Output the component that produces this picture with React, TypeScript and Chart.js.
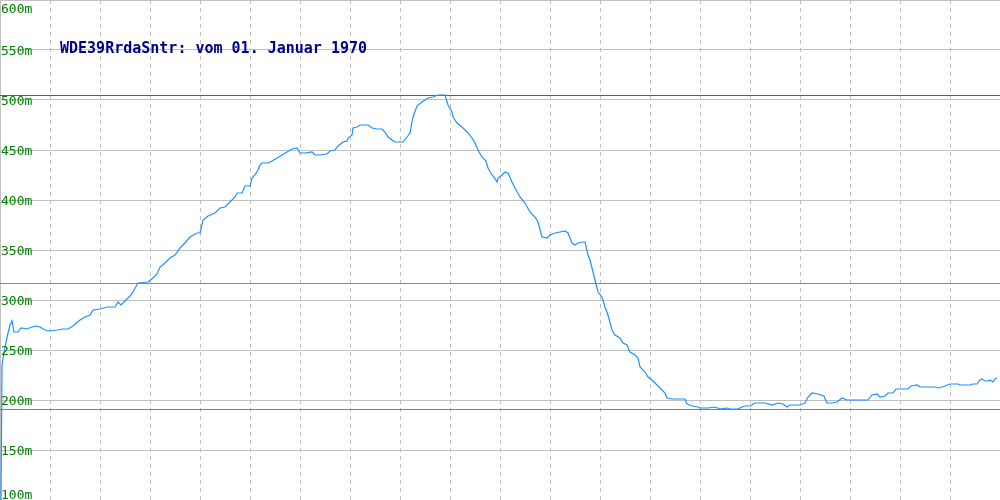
import React, { useEffect, useRef } from "react";
import { Chart, registerables } from "chart.js";

Chart.register(...registerables);

const titleText = "WDE39RrdaSntr: vom 01. Januar 1970";

const distances = [
  1, 2, 5, 8, 10, 12, 14, 18, 21, 27, 32, 36, 40, 45, 50, 57, 63, 68, 73, 80,
  85, 90, 93, 100, 107, 115, 118, 121, 125, 130, 133, 138, 148, 153, 157, 160, 165, 170, 175, 180,
  185, 190, 197, 200, 203, 208, 215, 220, 225, 230, 235, 237, 242, 245, 250, 252, 255, 258, 260, 262,
  268, 272, 277, 282, 287, 292, 297, 300, 305, 312, 315, 320, 327, 330, 335, 338, 343, 347, 348, 352,
  353, 357, 360, 368, 372, 377, 382, 385, 388, 392, 395, 403, 407, 410, 412, 413, 417, 422, 428, 433,
  438, 445, 448, 452, 453, 457, 462, 465, 468, 472, 475, 478, 482, 486, 488, 492, 494, 497, 498, 502,
  505, 508, 512, 515, 520, 525, 530, 535, 538, 542, 547, 550, 555, 560, 565, 568, 572, 575, 578, 582,
  585, 588, 590, 593, 596, 598, 602, 605, 608, 612, 615, 620, 623, 627, 630, 635, 638, 640, 645, 648,
  652, 655, 660, 665, 667, 672, 685, 687, 692, 698, 700, 708, 715, 720, 727, 730, 738, 742, 745, 750,
  755, 765, 772, 778, 783, 787, 790, 800, 805, 808, 812, 818, 824, 827, 832, 837, 842, 847, 868, 872,
  877, 880, 885, 888, 893, 896, 908, 911, 917, 920, 935, 938, 942, 945, 950, 958, 960, 970, 973, 977,
  980, 982, 985, 988, 990, 993, 995, 997,
];

const elevations = [
  100, 235, 253, 267, 275, 279, 268, 268, 272, 271, 273, 274, 273, 270, 269, 270, 271, 271, 274, 280,
  283, 285, 290, 291, 293, 293, 298, 295, 299, 304, 308, 317, 318, 322, 326, 333, 337, 342, 345, 352,
  357, 363, 367, 367, 380, 384, 387, 392, 393, 398, 403, 407, 407, 414, 414, 422, 425, 430, 435, 437,
  437, 439, 442, 445, 448, 451, 452, 447, 447, 448, 445, 445, 446, 449, 450, 454, 458, 459, 462, 465,
  472, 473, 475, 475, 472, 471, 471, 468, 463, 460, 458, 458, 463, 467, 478, 483, 494, 498, 502, 503,
  505, 505, 495, 488, 483, 477, 473, 470, 467, 462, 457, 450, 443, 439, 432, 425, 423, 418, 422, 425,
  428, 427, 418, 412, 403, 397, 388, 383, 378, 363, 362, 365, 367, 368, 369, 367, 357, 355, 357, 358,
  358, 345, 340, 328, 316, 308, 303, 293, 285, 270, 265, 262, 257, 255, 248, 245, 242, 233, 228, 223,
  220, 217, 212, 207, 202, 201, 201, 196, 194, 193, 192, 192, 193, 191, 192, 191, 191, 193, 194, 194,
  197, 197, 195, 197, 196, 193, 195, 195, 197, 203, 207, 206, 204, 197, 197, 198, 202, 200, 200, 205,
  206, 203, 204, 207, 207, 211, 211, 214, 215, 213, 213, 212, 213, 214, 216, 216, 215, 215, 216, 216,
  220, 221, 219, 219, 220, 218, 221, 222,
];

const refValues = [505, 317, 191];
const refColors = ["#2a852a", "#3cb371", "#20a8a0"];

const yTickValues = [100, 150, 200, 250, 300, 350, 400, 450, 500, 550, 600];
const yTickLabels = ["100m", "150m", "200m", "250m", "300m", "350m", "400m", "450m", "500m", "550m", "600m"];

const xMin = 0;
const xMax = 1000;
const yMin = 100;
const yMax = 600;

const refLinePlugin = {
  id: "refLinePlugin",
  beforeDatasetsDraw(chart: any) {
    const ctx = chart.ctx;
    const yScale = chart.scales.y;
    const xScale = chart.scales.x;
    ctx.save();
    ctx.lineWidth = 1;
    refValues.forEach((v, i) => {
      const py = Math.round(yScale.getPixelForValue(v)) + 0.5;
      ctx.strokeStyle = refColors[i];
      ctx.beginPath();
      ctx.moveTo(xScale.getPixelForValue(xMin), py);
      ctx.lineTo(xScale.getPixelForValue(xMax), py);
      ctx.stroke();
    });
    ctx.restore();
  },
};

const labelPlugin = {
  id: "labelPlugin",
  afterDraw(chart: any) {
    const ctx = chart.ctx;
    const yScale = chart.scales.y;
    const area = chart.chartArea;
    ctx.save();
    ctx.font = '13px "DejaVu Sans Mono", monospace';
    ctx.fillStyle = "#008000";
    ctx.textAlign = "left";
    ctx.textBaseline = "alphabetic";
    yTickValues.forEach((v, i) => {
      const py = yScale.getPixelForValue(v);
      const by = Math.min(Math.max(py + 5, area.top + 13), area.bottom - 1);
      ctx.fillText(yTickLabels[i], area.left + 1, by);
    });
    ctx.font = 'bold 15px "DejaVu Sans Mono", monospace';
    ctx.fillStyle = "#00008b";
    ctx.fillText(titleText, area.left + 60, area.top + 53);
    ctx.restore();
  },
};

export default function App() {
  const canvasRef = useRef<HTMLCanvasElement | null>(null);

  useEffect(() => {
    document.body.style.margin = "0";
    const canvas = canvasRef.current;
    if (!canvas) return;
    const points = distances.map((d, i) => ({ x: d, y: elevations[i] }));
    const chart = new Chart(canvas, {
      type: "line",
      data: {
        datasets: [
          {
            data: points,
            borderColor: "#1e90ff",
            borderWidth: 1.2,
            pointRadius: 0,
            tension: 0,
            fill: false,
          },
        ],
      },
      options: {
        animation: false,
        responsive: false,
        maintainAspectRatio: false,
        layout: { padding: 0 },
        plugins: {
          legend: { display: false },
          tooltip: { enabled: false },
          title: { display: false },
        },
        scales: {
          x: {
            type: "linear",
            min: xMin,
            max: xMax,
            ticks: { display: false, stepSize: 50 },
            grid: { color: "#c0c0c0", lineWidth: 1, drawTicks: false },
            border: { display: false, dash: [4, 4] },
          },
          y: {
            type: "linear",
            min: yMin,
            max: yMax,
            ticks: { display: false, stepSize: 50 },
            grid: { color: "#c0c0c0", lineWidth: 1, drawTicks: false },
            border: { display: true, color: "#c0c0c0" },
          },
        },
      },
      plugins: [refLinePlugin, labelPlugin],
    });
    return () => chart.destroy();
  }, []);

  return (
    <div style={{ width: 1000, height: 500, position: "relative", background: "#fff" }}>
      <canvas ref={canvasRef} width={1000} height={500} />
    </div>
  );
}
